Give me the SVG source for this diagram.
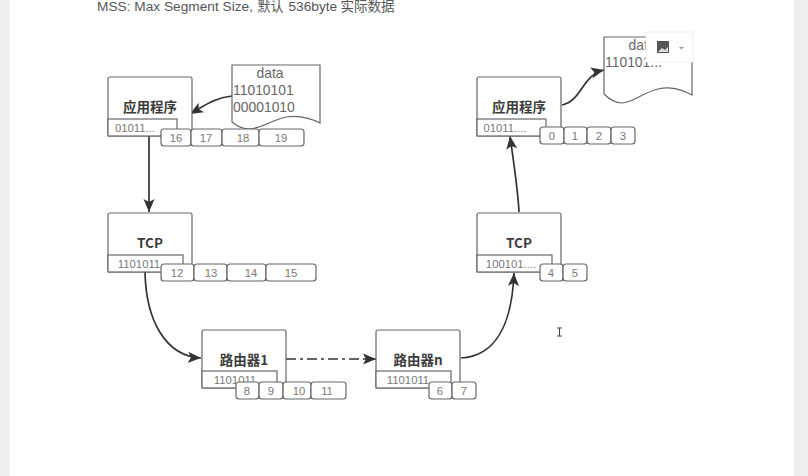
<svg xmlns="http://www.w3.org/2000/svg" width="808" height="476" viewBox="0 0 808 476">
<defs>
<marker id="arr" markerWidth="14" markerHeight="12" refX="13" refY="6" orient="auto" markerUnits="userSpaceOnUse"><path d="M0 0.500L13 6L0 11.500L3 6Z" fill="#333"/></marker>
</defs>
<style>
.box{fill:#fff;stroke:#666;stroke-width:1.2}
.inner{fill:#fff;stroke:#666;stroke-width:1.2}
.cell{fill:#fff;stroke:#666;stroke-width:1.2}
.t{font-family:"Liberation Sans","Noto Sans CJK SC",sans-serif;font-size:11.300px;fill:#777;text-anchor:middle;opacity:.99}
.h{font-family:"Noto Sans CJK SC","Liberation Sans",sans-serif;font-size:13.500px;font-weight:700;fill:#3a3a3a;text-anchor:middle;opacity:.99}
.d{font-family:"Liberation Sans","Noto Sans CJK SC",sans-serif;font-size:13.900px;fill:#666;opacity:.99}
.c{fill:none;stroke:#333;stroke-width:1.700}
</style>
<rect width="808" height="476" fill="#eeeeee"/>
<rect x="9.500" y="0" width="784.500" height="476" fill="#fff"/>
<text y="11" font-family="Liberation Sans,Noto Sans CJK SC,sans-serif" font-size="13.700" fill="#555" opacity=".99"><tspan x="97">MSS: Max Segment Size,</tspan><tspan x="257.500" font-size="13">默认</tspan><tspan x="288.500">536byte</tspan><tspan x="340.500" font-size="13.500">实际数据</tspan></text>
<g id="connectors">
<path class="c" d="M232 96C214 98 204 106 190 114" marker-end="url(#arr)"/>
<path class="c" d="M149 136V212" marker-end="url(#arr)"/>
<path class="c" d="M145 272C146 320 165 356 201 358" marker-end="url(#arr)"/>
<path class="c" d="M286 359H376" stroke-dasharray="10 4 3 4" marker-end="url(#arr)"/>
<path class="c" d="M461 358C495 356 512 325 514 273" marker-end="url(#arr)"/>
<path class="c" d="M519 212C518 190 514 165 510 136" marker-end="url(#arr)"/>
<path class="c" d="M562 105C582 101 582 75 604 70" marker-end="url(#arr)"/>
</g>
<g id="doc-send"><path class="box" d="M232 65H320V123C308 117 298 115 286 117C270 121 262 128 250 129C243 129 238 127 232 122Z"/><text class="d" x="270" y="78" text-anchor="middle">data</text><text class="d" x="233" y="95">11010101</text><text class="d" x="233" y="112">00001010</text></g>
<g id="doc-recv"><path class="box" d="M604 37H692V95C680 89 670 86 658 89C642 93 634 102 622 103C615 103 610 100 604 94Z"/><text class="d" x="642" y="50" text-anchor="middle">data</text><text class="d" x="605" y="67">110101...</text></g>
<g id="app-send"><rect class="box" x="108" y="77" width="84" height="59" rx="2"/><text class="h" x="150" y="112">应用程序</text><rect class="inner" x="108" y="119" width="69" height="17"/><text class="t" x="135" y="132">01011...</text></g>
<g id="cells-send"><rect class="cell" x="161" y="129" width="30" height="17" rx="3"/><text class="t" x="176" y="142">16</text><rect class="cell" x="191" y="129" width="31" height="17" rx="3"/><text class="t" x="206" y="142">17</text><rect class="cell" x="222" y="129" width="37" height="17" rx="3"/><text class="t" x="243" y="142">18</text><rect class="cell" x="259" y="129" width="45" height="17" rx="3"/><text class="t" x="281" y="142">19</text></g>
<g id="tcp-send"><rect class="box" x="108" y="213" width="84" height="59" rx="2"/><text class="h" x="150" y="248">TCP</text><rect class="inner" x="108" y="255" width="75" height="17"/><text class="t" x="139" y="268">1101011</text></g>
<g id="cells-tcp"><rect class="cell" x="161" y="264" width="33" height="17" rx="3"/><text class="t" x="177" y="277">12</text><rect class="cell" x="194" y="264" width="33" height="17" rx="3"/><text class="t" x="211" y="277">13</text><rect class="cell" x="227" y="264" width="39" height="17" rx="3"/><text class="t" x="251" y="277">14</text><rect class="cell" x="266" y="264" width="50" height="17" rx="3"/><text class="t" x="291" y="277">15</text></g>
<g id="router1"><rect class="box" x="202" y="330" width="84" height="58" rx="2"/><text class="h" x="244" y="365">路由器1</text><rect class="inner" x="202" y="371" width="75" height="17"/><text class="t" x="235" y="384">1101011</text></g>
<g id="cells-router1"><rect class="cell" x="236" y="382" width="23" height="17" rx="3"/><text class="t" x="247" y="395">8</text><rect class="cell" x="259" y="382" width="24" height="17" rx="3"/><text class="t" x="271" y="395">9</text><rect class="cell" x="283" y="382" width="28" height="17" rx="3"/><text class="t" x="299" y="395">10</text><rect class="cell" x="311" y="382" width="35" height="17" rx="3"/><text class="t" x="327" y="395">11</text></g>
<g id="routern"><rect class="box" x="376" y="330" width="84" height="58" rx="2"/><text class="h" x="418" y="365">路由器n</text><rect class="inner" x="376" y="371" width="75" height="17"/><text class="t" x="408" y="384">1101011</text></g>
<g id="cells-routern"><rect class="cell" x="429" y="382" width="23" height="17" rx="3"/><text class="t" x="440" y="395">6</text><rect class="cell" x="452" y="382" width="24" height="17" rx="3"/><text class="t" x="464" y="395">7</text></g>
<g id="tcp-recv"><rect class="box" x="477" y="213" width="84" height="59" rx="2"/><text class="h" x="519" y="248">TCP</text><rect class="inner" x="477" y="255" width="75" height="17"/><text class="t" x="511" y="268">100101....</text></g>
<g id="cells-tcp-recv"><rect class="cell" x="540" y="264" width="23" height="17" rx="3"/><text class="t" x="551" y="277">4</text><rect class="cell" x="563" y="264" width="24" height="17" rx="3"/><text class="t" x="575" y="277">5</text></g>
<g id="app-recv"><rect class="box" x="477" y="77" width="84" height="59" rx="2"/><text class="h" x="519" y="112">应用程序</text><rect class="inner" x="477" y="119" width="69" height="17"/><text class="t" x="505" y="132">01011....</text></g>
<g id="cells-recv"><rect class="cell" x="540" y="127" width="24" height="17" rx="3"/><text class="t" x="552" y="140">0</text><rect class="cell" x="564" y="127" width="23" height="17" rx="3"/><text class="t" x="575" y="140">1</text><rect class="cell" x="587" y="127" width="24" height="17" rx="3"/><text class="t" x="599" y="140">2</text><rect class="cell" x="611" y="127" width="24" height="17" rx="3"/><text class="t" x="623" y="140">3</text></g>
<g id="image-toolbar"><rect x="646" y="32" width="47" height="30" fill="#fff" stroke="#eee"/><rect x="657" y="41" width="12" height="12" fill="#555"/><path d="M658 52l4-4 3 2 3-3v5z" fill="#ddd"/><path d="M679 47h5l-2.500 2.500z" fill="#999"/></g>
<g id="cursor"><path d="M557 328h5M557 336h5M559.500 328v8" stroke="#444" fill="none"/></g>
</svg>
